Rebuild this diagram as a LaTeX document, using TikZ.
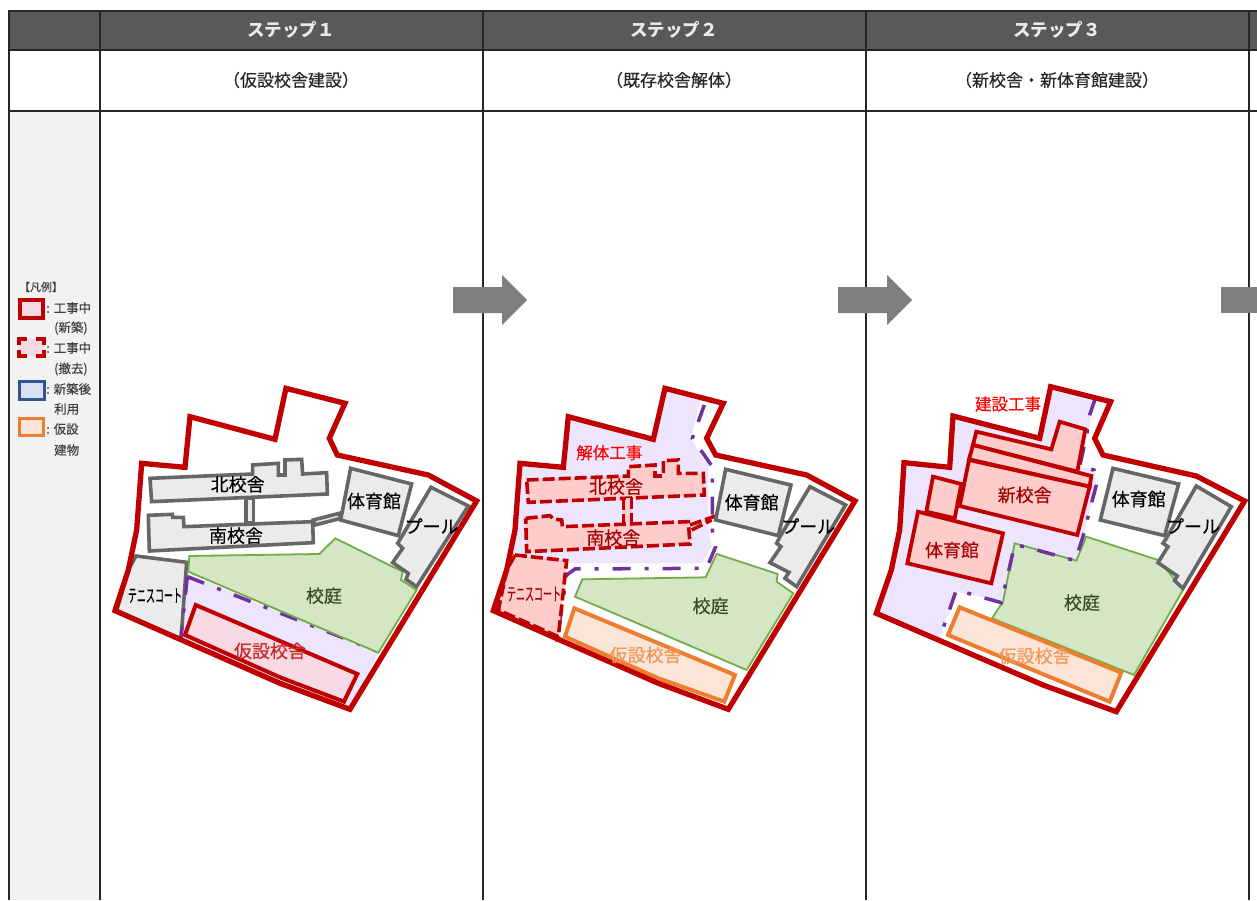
\documentclass[tikz,border=0pt]{standalone}
\usepackage{fontspec}
\usepackage{graphicx}
\usepackage{xcolor}
\setmainfont{Noto Sans CJK JP}
\newfontfamily\medfont[FakeBold=0.3]{Noto Sans CJK JP}
\definecolor{headgray}{HTML}{595959}
\definecolor{sidegray}{HTML}{F2F2F2}
\definecolor{arrowgray}{HTML}{7F7F7F}
\definecolor{workred}{HTML}{C00000}
\definecolor{workpink}{HTML}{FFCCCC}
\definecolor{temppink}{HTML}{F6D9E3}
\definecolor{liloc}{HTML}{ECE5FD}
\definecolor{limitpurple}{HTML}{7030A0}
\definecolor{yardgreen}{HTML}{70AD47}
\definecolor{yardfill}{HTML}{D5E6C4}
\definecolor{bldgray}{HTML}{666666}
\definecolor{bldfill}{HTML}{EBEBEB}
\definecolor{temporange}{HTML}{ED7D31}
\definecolor{tempfill}{HTML}{FBE5D6}
\definecolor{newblue}{HTML}{2F5597}
\definecolor{newfill}{HTML}{D9E2F3}
\tikzset{
  grid/.style={draw=black!85,line width=1.1pt},
  sitebound/.style={draw=workred,line width=5.3pt},
  oldbld/.style={draw=bldgray,fill=bldfill,line width=3.6pt},
  yard/.style={draw=yardgreen,fill=yardfill,line width=1.8pt},
  demolish/.style={draw=workred,fill=workpink,line width=3.6pt,dash pattern=on 12pt off 4pt},
  newbld/.style={draw=workred,fill=workpink,line width=3.8pt},
  tempwork/.style={draw=workred,fill=temppink,line width=4pt},
  tempdone/.style={draw=temporange,fill=tempfill,line width=4pt},
  worklimit/.style={draw=limitpurple,line width=3.5pt,dash pattern=on 18pt off 14pt on 4pt off 14pt},
  blockarrow/.style={fill=arrowgray,draw=none},
  lbl/.style={inner sep=0pt,font=\medfont\fontsize{18}{20}\selectfont},
  worktext/.style={inner sep=0pt,text=red,font=\medfont\fontsize{16.5}{18}\selectfont},
  steptext/.style={inner sep=0pt,text=white!92!black,font=\fontsize{17.5}{20}\selectfont\bfseries},
  subtext/.style={inner sep=0pt,text=black!85,font=\medfont\fontsize{17}{20}\selectfont},
  legtext/.style={inner sep=0pt,anchor=west,text=black!75,font=\medfont\fontsize{12.5}{14}\selectfont},
}
\begin{document}
\begin{tikzpicture}[x=1pt,y=-1pt]
  \useasboundingbox (0,0) rectangle (1257,900);
  \fill[white] (0,0) rectangle (1257,900);

  % table
  \fill[headgray] (9,11) rectangle (1257,50);
  \fill[sidegray] (9,111) rectangle (100,900);
  \draw[grid] (9,900) -- (9,11) -- (1257,11);
  \draw[grid] (9,50) -- (1257,50);
  \draw[grid] (9,111) -- (1257,111);
  \draw[grid] (100,11) -- (100,900);
  \draw[grid] (483,11) -- (483,900);
  \draw[grid] (866,11) -- (866,900);
  \draw[grid] (1249,11) -- (1249,900);

  \node[steptext] (head1) at (291,30) {ステップ１};
  \node[steptext] (head2) at (674,30) {ステップ２};
  \node[steptext] (head3) at (1057,30) {ステップ３};
  \node[subtext] (sub1) at (291,80) {（仮設校舎建設）};
  \node[subtext] (sub2) at (674,80) {（既存校舎解体）};
  \node[subtext] (sub3) at (1057,80) {（新校舎・新体育館建設）};

  % arrows
  \fill[blockarrow] (453,287) -- (502,287) -- (502,275) -- (527,300) -- (502,325) -- (502,313) -- (453,313) -- cycle;
  \fill[blockarrow] (838,287) -- (887,287) -- (887,275) -- (912,300) -- (887,325) -- (887,313) -- (838,313) -- cycle;
  \fill[blockarrow] (1221,287) -- (1257,287) -- (1257,313) -- (1221,313) -- cycle;

  % legend
  \node[inner sep=0pt,text=black!75,font=\medfont\fontsize{11}{13}\selectfont] (legtitle) at (41,287) {【凡例】};
  \draw[draw=workred,fill=temppink,line width=3.5pt] (20,300) rectangle (43,318);
  \fill[temppink] (19,339) rectangle (44,356);
  \draw[draw=workred,line width=3.5pt] (27,339) -- (19,339) -- (19,345);
  \draw[draw=workred,line width=3.5pt] (36,339) -- (44,339) -- (44,345);
  \draw[draw=workred,line width=3.5pt] (19,350) -- (19,356) -- (27,356);
  \draw[draw=workred,line width=3.5pt] (44,350) -- (44,356) -- (36,356);
  \draw[draw=newblue,fill=newfill,line width=3pt] (19,381) rectangle (44,399);
  \draw[draw=temporange,fill=tempfill,line width=3pt] (19,418) rectangle (43,435);
  \node[legtext] (leg1) at (46,308) {:\hspace{4pt}工事中};
  \node[legtext] (leg1b) at (54,328) {(新築)};
  \node[legtext] (leg2) at (46,348) {:\hspace{4pt}工事中};
  \node[legtext] (leg2b) at (54,369) {(撤去)};
  \node[legtext] (leg3) at (46,389) {:\hspace{4pt}新築後};
  \node[legtext] (leg3b) at (54,409) {利用};
  \node[legtext] (leg4) at (46,429) {:\hspace{4pt}仮設};
  \node[legtext] (leg4b) at (54,450) {建物};

  % step 1
  \begin{scope}[shift={(100,370)},scale=0.3333]
    \fill[liloc] (262,610) -- (835,848) -- (750,1015) -- (540,935) -- (245,800) -- cycle;
    \draw[oldbld] (108,558) -- (260,577) -- (243,808) -- (50,722) -- (85,600) -- cycle;
    \draw[worklimit] (262,620) -- (243,800);
    \draw[worklimit] (262,620) -- (835,845);
    \draw[yard] (268,558) -- (658,552) -- (706,505) -- (908,605) -- (903,630) -- (950,660) -- (835,848) -- (265,605) -- cycle;
    \draw[oldbld] (150,325) -- (458,312) -- (458,285) -- (535,280) -- (535,315) -- (555,315) -- (555,270) -- (605,268) -- (608,312) -- (680,308) -- (682,372) -- (155,395) -- cycle;
    \draw[oldbld] (438,385) rectangle (460,458);
    \draw[oldbld] (145,436) -- (217,433) -- (218,442) -- (250,442) -- (252,470) -- (638,455) -- (640,518) -- (148,543) -- cycle;
    \draw[oldbld] (640,450) -- (718,430) -- (722,445) -- (645,465) -- cycle;
    \draw[oldbld] (752,295) -- (935,342) -- (895,497) -- (722,450) -- cycle;
    \draw[oldbld] (993,352) -- (1105,408) -- (950,650) -- (918,628) -- (925,610) -- (878,578) -- (908,535) -- (893,520) -- (905,500) -- cycle;
    \draw[tempwork] (287,705) -- (772,912) -- (732,995) -- (540,922) -- (255,795) -- cycle;
    \draw[sitebound] (558,55) -- (735,100) -- (688,205) -- (712,255) -- (985,315) -- (1130,393) -- (750,1018) -- (540,940) -- (45,722) -- (85,600) -- (110,480) -- (125,280) -- (255,292) -- (270,140) -- (525,208) -- cycle;
    \node[lbl] (north1) at (413,343) {北校舎};
    \node[lbl] (south1) at (408,497) {南校舎};
    \node[lbl] (gym1) at (822,393) {体育館};
    \node[lbl] (pool1) at (995,468) {プール};
    \node[lbl] (tennis1) at (165,677) {\scalebox{0.5}[1]{テニスコート}};
    \node[lbl,text=yardgreen!45!black] (yard1) at (672,677) {校庭};
    \node[lbl,text=workred!85!white] (temp1) at (510,843) {仮設校舎};
  \end{scope}

  % step 2
  \begin{scope}[shift={(485,370)},scale=0.3333]
    \fill[liloc] (105,280) -- (235,292) -- (250,140) -- (505,208) -- (540,55) -- (648,82) -- (618,205) -- (645,250) -- (670,285) -- (670,480) -- (680,530) -- (650,580) -- (250,580) -- (245,615) -- (215,810) -- (25,722) -- (65,600) -- (90,480) -- cycle;
    \draw[worklimit] (658,105) -- (622,205) -- (652,247) -- (682,290) -- (682,480) -- (692,530) -- (665,595) -- (270,597) -- (245,615) -- (215,815);
    \draw[yard] (292,628) -- (662,622) -- (695,552) -- (878,612) -- (875,635) -- (925,670) -- (785,900) -- (270,680) -- cycle;
    \draw[demolish] (90,555) -- (245,572) -- (220,800) -- (40,720) -- (65,600) -- cycle;
    \draw[demolish] (125,330) -- (430,318) -- (430,290) -- (510,285) -- (510,318) -- (535,318) -- (535,272) -- (580,270) -- (580,310) -- (655,310) -- (658,375) -- (130,397) -- cycle;
    \draw[demolish] (415,385) rectangle (440,460);
    \draw[demolish] (122,445) -- (195,437) -- (205,447) -- (230,450) -- (232,470) -- (610,455) -- (615,522) -- (125,545) -- cycle;
    \draw[demolish] (615,465) -- (700,435);
    \draw[demolish] (620,480) -- (680,450);
    \draw[oldbld] (722,298) -- (918,345) -- (880,497) -- (692,450) -- cycle;
    \draw[oldbld] (975,350) -- (1082,405) -- (935,650) -- (900,625) -- (912,607) -- (855,578) -- (888,530) -- (875,520) -- (885,500) -- cycle;
    \draw[tempdone] (268,715) -- (750,915) -- (718,995) -- (520,925) -- (240,800) -- cycle;
    \draw[sitebound] (540,55) -- (715,100) -- (665,205) -- (692,255) -- (965,315) -- (1110,393) -- (730,1018) -- (520,940) -- (25,722) -- (65,600) -- (90,480) -- (105,280) -- (235,292) -- (250,140) -- (505,208) -- cycle;
    \node[lbl,text=workred!85!black] (north2) at (393,350) {北校舎};
    \node[lbl,text=workred!85!black] (south2) at (385,503) {南校舎};
    \node[lbl] (gym2) at (800,397) {体育館};
    \node[lbl] (pool2) at (970,468) {プール};
    \node[lbl,text=workred!85!black] (tennis2) at (147,672) {\scalebox{0.5}[1]{テニスコート}};
    \node[lbl,text=yardgreen!45!black] (yard2) at (677,708) {校庭};
    \node[lbl,text=temporange!80!white] (temp2) at (482,855) {仮設校舎};
    \node[worktext] (work2) at (373,248) {解体工事};
  \end{scope}

  % step 3
  \begin{scope}[shift={(868,370)},scale=0.3333]
    \fill[liloc] (108,278) -- (245,292) -- (255,138) -- (515,205) -- (548,50) -- (680,85) -- (665,170) -- (635,290) -- (678,300) -- (685,345) -- (660,440) -- (645,500) -- (622,572) -- (440,525) -- (405,695) -- (265,665) -- (215,805) -- (25,730) -- (70,600) -- (95,480) -- cycle;
    \draw[yard] (440,520) -- (625,572) -- (655,500) -- (870,570) -- (905,610) -- (945,660) -- (798,915) -- (372,745) -- (405,695) -- cycle;
    \draw[worklimit] (682,85) -- (665,135) -- (658,185) -- (635,290) -- (678,300) -- (685,345) -- (660,440) -- (645,500) -- (622,572) -- (470,530) -- (440,525) -- (400,698) -- (265,660) -- (215,805);
    \draw[newbld] (325,185) -- (550,238) -- (575,155) -- (652,178) -- (628,305) -- (315,225) -- cycle;
    \draw[newbld] (315,225) -- (670,318) -- (665,350) -- (303,268) -- cycle;
    \draw[newbld] (303,270) -- (665,350) -- (628,495) -- (275,408) -- cycle;
    \draw[newbld] (195,320) -- (280,342) -- (260,445) -- (175,425) -- cycle;
    \draw[newbld] (150,425) -- (405,490) -- (370,640) -- (118,580) -- cycle;
    \draw[oldbld] (735,295) -- (932,342) -- (890,497) -- (697,450) -- cycle;
    \draw[oldbld] (985,348) -- (1090,410) -- (945,655) -- (920,632) -- (928,618) -- (870,578) -- (900,530) -- (885,520) -- (895,505) -- cycle;
    \draw[tempdone] (275,712) -- (760,908) -- (725,995) -- (240,795) -- cycle;
    \draw[sitebound] (548,50) -- (728,95) -- (680,205) -- (705,255) -- (985,318) -- (1130,393) -- (745,1025) -- (525,945) -- (25,730) -- (70,600) -- (95,480) -- (108,278) -- (245,292) -- (255,138) -- (515,205) -- cycle;
    \node[lbl,text=workred!85!black] (newschool3) at (470,375) {新校舎};
    \node[lbl,text=workred!85!black] (newgym3) at (252,540) {体育館};
    \node[lbl] (gym3) at (812,387) {体育館};
    \node[lbl] (pool3) at (975,468) {プール};
    \node[lbl,text=yardgreen!45!black] (yard3) at (642,698) {校庭};
    \node[lbl,text=temporange!80!white] (temp3) at (500,858) {仮設校舎};
    \node[worktext] (work3) at (420,102) {建設工事};
  \end{scope}
\end{tikzpicture}
\end{document}
